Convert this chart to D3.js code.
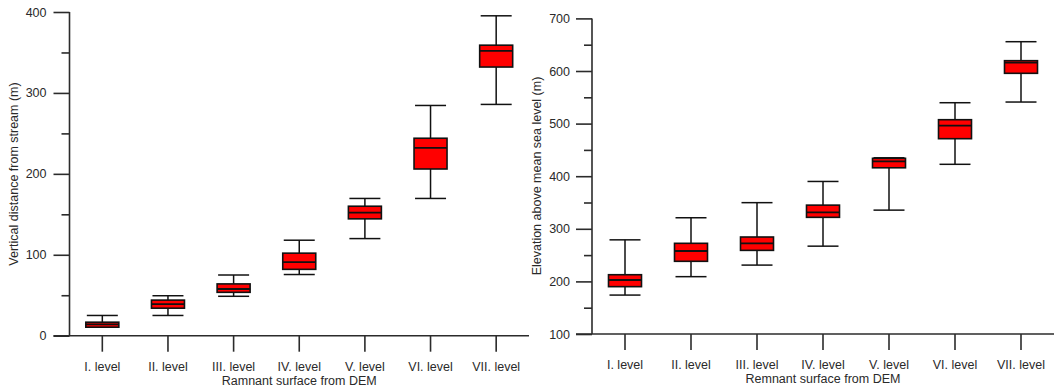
<!DOCTYPE html>
<html>
<head>
<meta charset="utf-8">
<script src="https://cdn.jsdelivr.net/npm/d3@7"></script>
<style>
  html, body { margin: 0; padding: 0; background: #fff; }
  svg { display: block; }
  text { font-family: "Liberation Sans", Arial, sans-serif; fill: #2a2a2a; }
</style>
</head>
<body>
<svg id="chart" width="1057" height="388"></svg>
<script>
// Remnant surface levels
const levels = ["I. level", "II. level", "III. level", "IV. level", "V. level", "VI. level", "VII. level"];

// Vertical distance from stream (m): whisker ends, quartiles and medians
const distMin    = [10.5, 25, 48.7, 75.6, 120, 169.6, 285.8];
const distQ1     = [10.5, 34, 53.6, 82, 144.4, 206, 332];
const distMedian = [14, 39, 57.7, 91, 152, 232, 352];
const distQ3     = [16.7, 44, 64, 102, 160, 244, 359];
const distMax    = [25, 49.4, 75, 118, 169.6, 284.5, 395.3];
const distTicks  = [0, 100, 200, 300, 400];
const distMinor  = [50, 150, 250, 350];

// Elevation above mean sea level (m)
const elevMin    = [174, 209, 231, 267, 335.5, 422.6, 541];
const elevQ1     = [190, 238.2, 259, 321.8, 416, 471.3, 595.6];
const elevMedian = [202.7, 257.8, 272.4, 331.4, 428, 496, 615.8];
const elevQ3     = [212.7, 272.4, 284.4, 345, 434, 507.4, 619.6];
const elevMax    = [279, 321, 349.7, 390, 435, 539.7, 655.7];
const elevTicks  = [100, 200, 300, 400, 500, 600, 700];
const elevMinor  = [150, 250, 350, 450, 550, 650];

const svg = d3.select("#chart");

function drawPanel(p) {
  const g = svg.append("g");
  const x = d3.scaleBand().domain(levels).range([p.x0, p.x1]);
  const y = d3.scaleLinear().domain(p.domain).range([p.yBottom, p.yTop]);

  const rows = levels.map((lv, i) => ({
    lv, min: p.min[i], q1: p.q1[i], med: p.med[i], q3: p.q3[i], max: p.max[i]
  }));

  const axisColor = "#2b2b2b";

  // y axis: major ticks with labels
  const yAxis = g.append("g").attr("transform", `translate(${p.x0},0)`)
    .call(d3.axisLeft(y).tickValues(p.ticks).tickSize(16).tickSizeOuter(0).tickPadding(p.yPad).tickFormat(d3.format("d")));
  // minor ticks
  const yMinor = g.append("g").attr("transform", `translate(${p.x0},0)`)
    .call(d3.axisLeft(y).tickValues(p.minor).tickSize(8).tickSizeOuter(0).tickFormat(""));
  [yAxis, yMinor].forEach(a => {
    a.select(".domain").remove();
    a.selectAll("line").attr("stroke", axisColor).attr("stroke-width", 1.6);
  });
  yAxis.selectAll("text").style("font-size", "12.5px").attr("fill", "#2a2a2a");

  // x axis ticks below the baseline
  const xAxis = g.append("g").attr("transform", `translate(0,${p.yBottom})`)
    .call(d3.axisBottom(x).tickSize(16).tickSizeOuter(0).tickPadding(p.xPad));
  xAxis.select(".domain").remove();
  xAxis.selectAll("line").attr("stroke", axisColor).attr("stroke-width", 1.6);
  xAxis.selectAll("text").style("font-size", "12.5px").attr("fill", "#2a2a2a");

  // axis lines
  g.append("line").attr("x1", p.x0).attr("x2", p.x0)
    .attr("y1", y(p.domain[1])).attr("y2", y(p.domain[0]))
    .attr("stroke", axisColor).attr("stroke-width", 1.6);
  g.append("line").attr("x1", p.x0 - 16).attr("x2", p.x1)
    .attr("y1", y(p.domain[0])).attr("y2", y(p.domain[0]))
    .attr("stroke", axisColor).attr("stroke-width", 1.6);

  // box plots
  const boxW = 33, capW = 31;
  const box = g.append("g").selectAll("g").data(rows).join("g")
    .attr("transform", d => `translate(${x(d.lv) + x.bandwidth() / 2},0)`);

  box.append("line").attr("x1", 0).attr("x2", 0)
    .attr("y1", d => y(d.max)).attr("y2", d => y(d.q3))
    .attr("stroke", "#111").attr("stroke-width", 1.5);
  box.append("line").attr("x1", 0).attr("x2", 0)
    .attr("y1", d => y(d.q1)).attr("y2", d => y(d.min))
    .attr("stroke", "#111").attr("stroke-width", 1.5);
  box.append("line").attr("x1", -capW / 2).attr("x2", capW / 2)
    .attr("y1", d => y(d.max)).attr("y2", d => y(d.max))
    .attr("stroke", "#111").attr("stroke-width", 1.5);
  box.append("line").attr("x1", -capW / 2).attr("x2", capW / 2)
    .attr("y1", d => y(d.min)).attr("y2", d => y(d.min))
    .attr("stroke", "#111").attr("stroke-width", 1.5);
  box.append("rect").attr("x", -boxW / 2).attr("width", boxW)
    .attr("y", d => y(d.q3)).attr("height", d => y(d.q1) - y(d.q3))
    .attr("fill", "#ff0000").attr("stroke", "#111").attr("stroke-width", 1.6);
  box.append("line").attr("x1", -boxW / 2).attr("x2", boxW / 2)
    .attr("y1", d => y(d.med)).attr("y2", d => y(d.med))
    .attr("stroke", "#111").attr("stroke-width", 1.8);

  // axis titles
  g.append("text").attr("x", (p.x0 + p.x1) / 2).attr("y", p.yBottom + p.titleDy)
    .attr("text-anchor", "middle").style("font-size", "12.5px").text(p.xTitle);
  g.append("text")
    .attr("transform", `translate(${p.yTitleX},${p.yTitleY}) rotate(-90)`)
    .attr("text-anchor", "middle").attr("dy", "0.35em")
    .style("font-size", "12.5px").text(p.yTitle);
}

drawPanel({
  x0: 69.5, x1: 529, yTop: 12, yBottom: 335.7, domain: [0, 400],
  ticks: distTicks, minor: distMinor,
  min: distMin, q1: distQ1, med: distMedian, q3: distQ3, max: distMax,
  yPad: 7, xPad: 10.5, titleDy: 49,
  xTitle: "Ramnant surface from DEM",
  yTitle: "Vertical distance from stream (m)", yTitleX: 13.5, yTitleY: 174
});

drawPanel({
  x0: 592, x1: 1054, yTop: 18.4, yBottom: 334, domain: [100, 700],
  ticks: elevTicks, minor: elevMinor,
  min: elevMin, q1: elevQ1, med: elevMedian, q3: elevQ3, max: elevMax,
  yPad: 6, xPad: 10, titleDy: 49,
  xTitle: "Remnant surface from DEM",
  yTitle: "Elevation above mean sea level (m)", yTitleX: 537, yTitleY: 176
});
</script>
</body>
</html>
